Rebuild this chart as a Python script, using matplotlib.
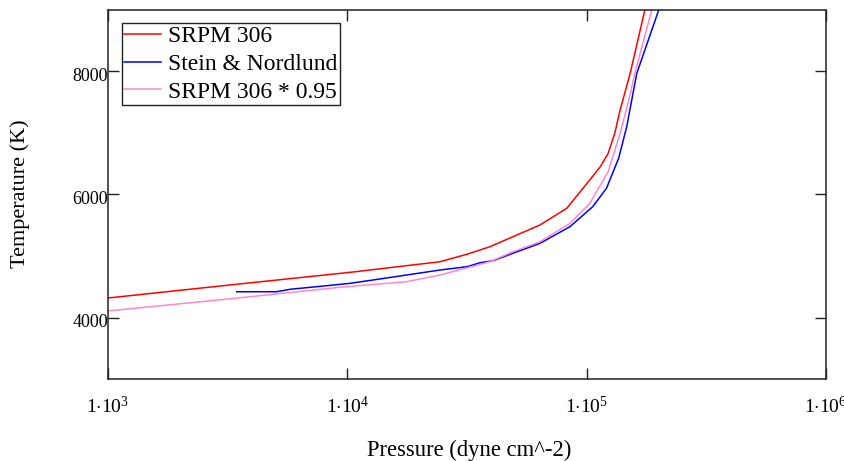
import matplotlib
matplotlib.use("Agg")
import matplotlib.pyplot as plt
from matplotlib.transforms import ScaledTranslation

plt.rcParams['font.family'] = ['Liberation Serif', 'DejaVu Serif']
plt.rcParams['mathtext.fontset'] = 'custom'
plt.rcParams['mathtext.rm'] = 'Liberation Serif'
plt.rcParams['mathtext.it'] = 'Liberation Serif:italic'

# ---- data ----
srpm_p = [1.0e3, 3.16e3, 1.03e4, 2.44e4, 3.16e4, 3.94e4, 4.92e4, 6.38e4,
          8.26e4, 1.03e5, 1.14e5, 1.23e5, 1.31e5, 1.38e5, 1.52e5, 1.75e5]
srpm_t = [4317, 4525, 4735, 4907, 5028, 5151, 5314, 5504,
          5776, 6236, 6451, 6670, 6994, 7374, 7971, 9000]

sn_p = [3.45e3, 5.07e3, 5.77e3, 7.45e3, 1.03e4, 1.28e4, 1.77e4, 2.44e4, 3.16e4, 3.59e4,
        4.06e4, 4.92e4, 6.38e4, 8.51e4, 1.06e5, 1.21e5, 1.36e5, 1.47e5, 1.62e5, 2.0e5]
sn_t = [4419, 4419, 4459, 4501, 4556, 4610, 4691, 4772, 4826, 4891,
        4923, 5044, 5206, 5476, 5802, 6101, 6589, 7102, 7971, 9000]

scaled_p = [1.0e3, 3.16e3, 9.31e3, 1.77e4, 2.44e4, 3.94e4, 4.92e4, 6.38e4,
            8.51e4, 1.03e5, 1.23e5, 1.38e5, 1.50e5, 1.59e5, 1.87e5]
scaled_t = [4106, 4300, 4491, 4582, 4691, 4907, 5069, 5232,
            5530, 5855, 6371, 6994, 7537, 7971, 9000]

series_labels = ["SRPM 306", "Stein & Nordlund", "SRPM 306 * 0.95"]
x_ticks = [1e3, 1e4, 1e5, 1e6]
x_tick_labels = [r'$\mathrm{1{\cdot}10^{3}}$', r'$\mathrm{1{\cdot}10^{4}}$',
                 r'$\mathrm{1{\cdot}10^{5}}$', r'$\mathrm{1{\cdot}10^{6}}$']
y_ticks = [4000, 6000, 8000]

W, H = 845, 461
fig = plt.figure(figsize=(W / 100, H / 100), dpi=100)
ax = fig.add_axes([108 / W, 1 - 379 / H, 718 / W, 369 / H])

ax.plot(srpm_p, srpm_t, color='#ff0000', lw=1.1, label=series_labels[0])
ax.plot(sn_p, sn_t, color='#0000ff', lw=1.1, label=series_labels[1])
ax.plot(scaled_p, scaled_t, color='#ff88c8', lw=1.1, label=series_labels[2])

ax.set_xscale('log')
ax.set_xlim(1e3, 1e6)
ax.set_ylim(3000, 9000)
ax.set_xticks(x_ticks)
ax.set_xticklabels(x_tick_labels)
ax.minorticks_off()
ax.set_yticks(y_ticks)
ax.set_yticklabels([str(v) for v in y_ticks])

ax.tick_params(axis='both', direction='in', length=8, width=1.0,
               top=True, right=True, labelsize=13, color='#222222')
ax.tick_params(axis='x', pad=12, labelsize=14)
ax.tick_params(axis='y', pad=0)
for sp in ax.spines.values():
    sp.set_linewidth(1.1)
    sp.set_color('#222222')

off = ScaledTranslation(0, -3 / 100, fig.dpi_scale_trans)
for lab in ax.get_yticklabels():
    lab.set_transform(lab.get_transform() + off)

leg = ax.legend(loc='upper left', bbox_to_anchor=(122 / W, 1 - 23 / H),
                bbox_transform=fig.transFigure, borderaxespad=0,
                fontsize=17, frameon=True, fancybox=False, framealpha=1,
                handlelength=1.55, handletextpad=0.3, labelspacing=0.27,
                borderpad=0.1)
leg.get_frame().set_edgecolor('#222222')
leg.get_frame().set_linewidth(1.0)

fig.text(20 / W, 1 - 194 / H, "Temperature (K)", rotation=90,
         ha='center', va='center', fontsize=16)
fig.text(469 / W, 1 - 450 / H, "Pressure (dyne cm^-2)",
         ha='center', va='center', fontsize=16.3)

fig.savefig('out.png', dpi=100)
